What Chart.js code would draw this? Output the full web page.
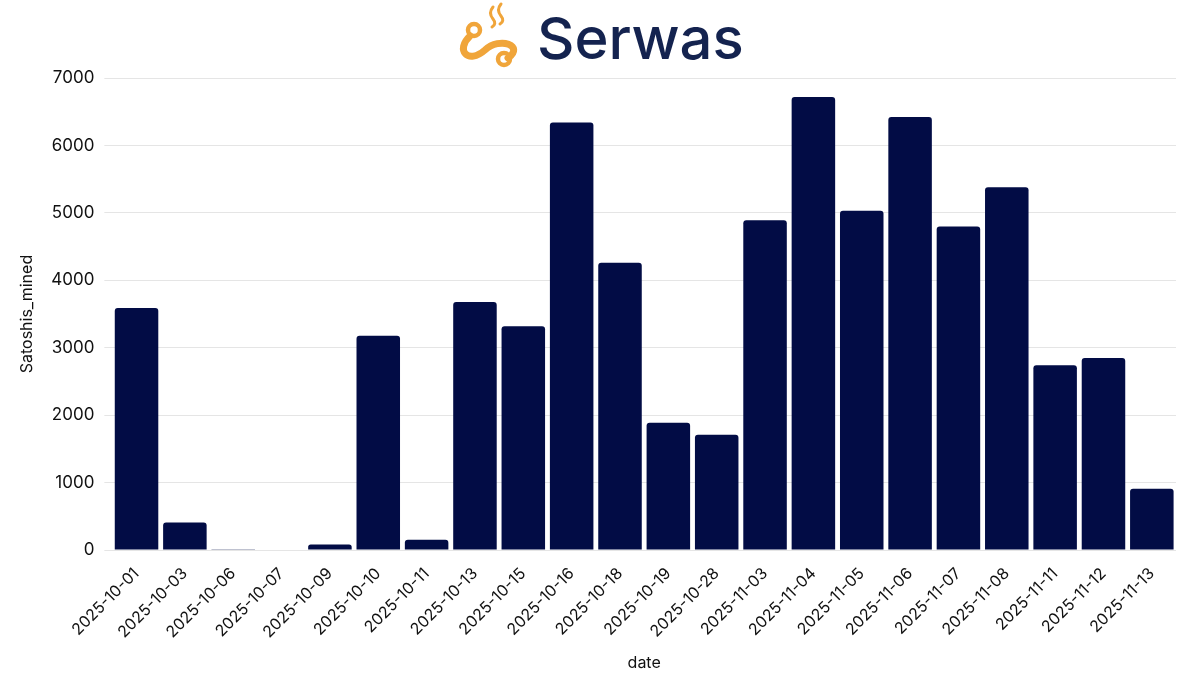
<!DOCTYPE html>
<html><head><meta charset="utf-8">
<script src="https://cdn.jsdelivr.net/npm/chart.js"></script>
<style>html,body{margin:0;background:#fff}#w{width:1200px;height:675px}</style>
</head><body><div id="w"><canvas id="c"></canvas></div>
<script>
const dates=["2025-10-01","2025-10-03","2025-10-06","2025-10-07","2025-10-09","2025-10-10","2025-10-11","2025-10-13","2025-10-15","2025-10-16","2025-10-18","2025-10-19","2025-10-28","2025-11-03","2025-11-04","2025-11-05","2025-11-06","2025-11-07","2025-11-08","2025-11-11","2025-11-12","2025-11-13"];
const satoshis=[3590,410,5,10,85,3180,155,3680,3320,6340,4260,1890,1710,4890,6720,5030,6420,4800,5380,2740,2850,910];
const logo={id:'logo',afterDraw(ch){const x=ch.ctx;x.save();
x.strokeStyle='#f0a53a';x.lineWidth=7;x.lineCap='round';
x.beginPath();x.moveTo(470,36);x.bezierCurveTo(455,50,468,65,485,50);x.bezierCurveTo(500,36,525,46,508,58);x.stroke();
x.lineWidth=4.5;x.beginPath();x.arc(474,30,6,0,7);x.stroke();x.beginPath();x.arc(504,59,6,0,7);x.stroke();
x.lineWidth=3;x.beginPath();x.moveTo(493,7);x.quadraticCurveTo(488,13,493,19);x.quadraticCurveTo(497,24,492,27);x.stroke();
x.beginPath();x.moveTo(501,4);x.quadraticCurveTo(496,10,501,16);x.quadraticCurveTo(505,21,500,24);x.stroke();
x.fillStyle='#14234f';x.font='500 58px Inter';x.textBaseline='middle';x.fillText('Serwas',537,42);x.restore();}};
new Chart(document.getElementById('c'),{type:'bar',plugins:[logo],
data:{labels:dates,datasets:[{data:satoshis,backgroundColor:'#020c45',borderRadius:3,barPercentage:0.9,categoryPercentage:1}]},
options:{responsive:true,maintainAspectRatio:false,animation:false,
layout:{padding:{top:78,right:24,left:14,bottom:2}},
plugins:{legend:{display:false},tooltip:{enabled:false}},
scales:{x:{grid:{display:false},border:{display:false},ticks:{color:'#111',font:{family:'Inter',size:16},maxRotation:45,minRotation:45,padding:6},title:{display:true,text:'date',color:'#111',font:{family:'Inter',size:16},padding:{top:6,bottom:0}}},
y:{min:0,max:7000,ticks:{stepSize:1000,color:'#111',font:{family:'Inter',size:17},padding:10,callback:v=>String(v)},grid:{color:'#e5e5e5'},border:{display:false},title:{display:true,text:'Satoshis_mined',color:'#111',font:{family:'Inter',size:16}}}}}});
</script></body></html>
